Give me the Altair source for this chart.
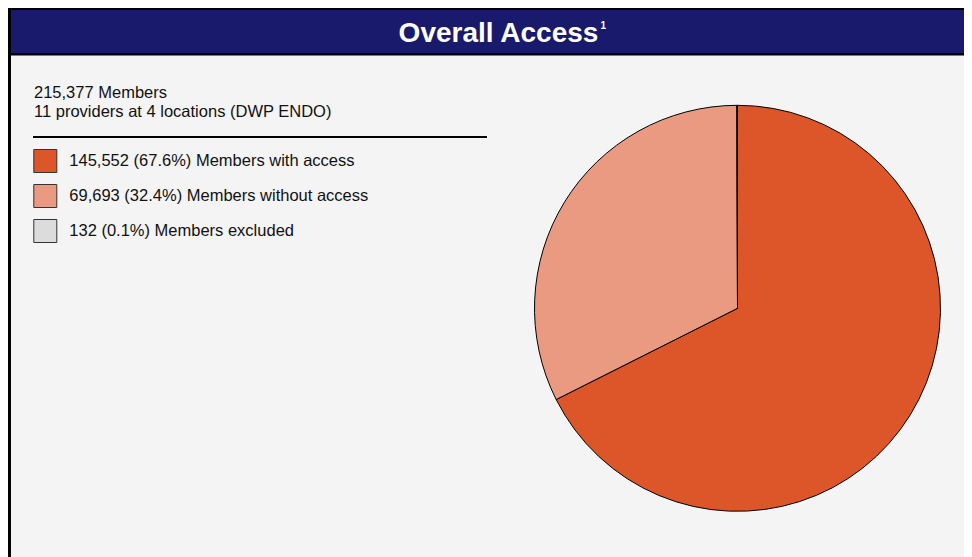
import altair as alt
import pandas as pd

# ---- data ----
categories = [
    "145,552 (67.6%) Members with access",
    "69,693 (32.4%) Members without access",
    "132 (0.1%) Members excluded",
]
members = [145552, 69693, 132]
slice_order = [0, 1, 2]
colors = ["#DC5629", "#EA9A80", "#DCDCDC"]
header_lines = ["215,377 Members", "11 providers at 4 locations (DWP ENDO)"]
title_text = ["Overall Access"]
title_note = ["1"]

BODY_FONT = "Liberation Sans, Arial, Helvetica, sans-serif"
TITLE_FONT = "Liberation Sans, Arial, Helvetica, sans-serif"

W = 956
H = 549

df = pd.DataFrame({"label": categories, "members": members, "order": slice_order})
one = pd.DataFrame({"k": [0]})

# ---- frame / title bar ----
left_border = alt.Chart(one).mark_rect(color="#000000").encode(
    x=alt.value(0), x2=alt.value(3), y=alt.value(0), y2=alt.value(H)
)
top_line = alt.Chart(one).mark_rect(color="#000000").encode(
    x=alt.value(0), x2=alt.value(W), y=alt.value(0), y2=alt.value(2)
)
title_bar = alt.Chart(one).mark_rect(color="#1A1A6C").encode(
    x=alt.value(3), x2=alt.value(W), y=alt.value(2), y2=alt.value(45)
)
title_bottom = alt.Chart(one).mark_rect(color="#000000").encode(
    x=alt.value(0), x2=alt.value(W), y=alt.value(45), y2=alt.value(47.5)
)
title = alt.Chart(pd.DataFrame({"t": title_text})).mark_text(
    font=TITLE_FONT, fontSize=28, fontWeight="bold", color="white",
    align="center", baseline="alphabetic"
).encode(text="t:N", x=alt.value(490.5), y=alt.value(34))
note = alt.Chart(pd.DataFrame({"t": title_note})).mark_text(
    font=TITLE_FONT, fontSize=10, fontWeight="bold", color="white",
    align="left", baseline="alphabetic"
).encode(text="t:N", x=alt.value(592.5), y=alt.value(20.5))

# ---- header text ----
header = alt.Chart(pd.DataFrame({"t": ["\n".join(header_lines)]})).mark_text(
    font=BODY_FONT, fontSize=16.5, color="#111111", align="left",
    baseline="alphabetic", lineBreak="\n", lineHeight=19
).encode(text="t:N", x=alt.value(26), y=alt.value(89.5))

separator = alt.Chart(one).mark_rule(color="#000000", strokeWidth=2).encode(
    x=alt.value(25), x2=alt.value(479), y=alt.value(129)
)

# ---- pie ----
pie = alt.Chart(df).mark_arc(radius=203, stroke="#000000", strokeWidth=1).encode(
    theta=alt.Theta("members:Q", stack=True),
    order=alt.Order("order:Q"),
    color=alt.Color(
        "label:N",
        sort=categories,
        scale=alt.Scale(domain=categories, range=colors),
        legend=alt.Legend(
            title=None,
            orient="none",
            direction="vertical",
            legendX=25.3,
            legendY=141,
            padding=0,
            symbolType="square",
            symbolSize=529,
            symbolStrokeColor="#333333",
            symbolStrokeWidth=1,
            symbolOpacity=1,
            labelFont=BODY_FONT,
            labelFontSize=16.5,
            labelColor="#111111",
            labelOffset=12,
            labelLimit=700,
            rowPadding=7,
        ),
    ),
    x=alt.value(729.5),
    y=alt.value(300.3),
)

chart = alt.layer(
    left_border, top_line, title_bar, title_bottom, title, note,
    header, separator, pie
).properties(
    width=W,
    height=H,
    padding=0,
    background="#F4F4F4",
    autosize=alt.AutoSizeParams(type="fit", contains="padding"),
).configure_view(stroke=None)

chart.save("out.html", embed_options={"renderer": "svg", "actions": False})
